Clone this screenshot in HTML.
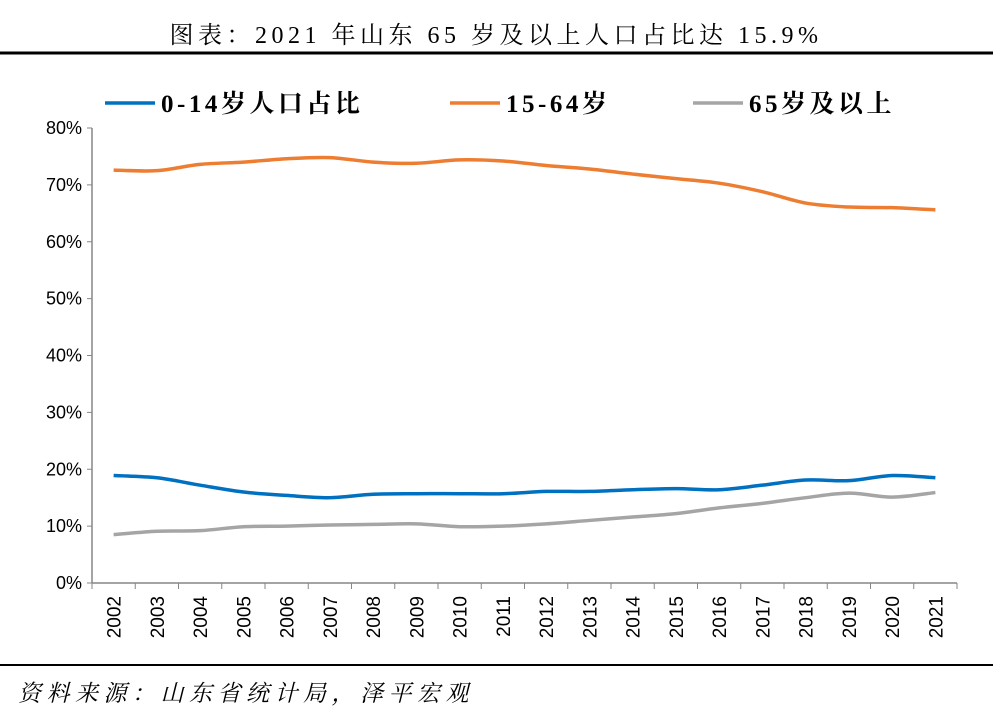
<!DOCTYPE html>
<html><head><meta charset="utf-8"><style>
body{margin:0;background:#fff;width:993px;height:712px;overflow:hidden;font-family:"Liberation Serif","Noto Serif CJK SC",serif;}
</style></head><body>
<svg width="993" height="712" xmlns="http://www.w3.org/2000/svg">
<text x="496" y="43" text-anchor="middle" font-size="24" letter-spacing="4.5" font-family="Liberation Serif, Noto Serif CJK SC, serif">图表：2021 年山东 65 岁及以上人口占比达 15.9%</text>
<line x1="0" y1="53" x2="993" y2="53" stroke="#000" stroke-width="3"/>
<g id="plot"></g>
<line x1="0" y1="665" x2="993" y2="665" stroke="#000" stroke-width="2"/>
<text x="18" y="701" font-size="23" letter-spacing="5.5" font-style="italic" font-family="Liberation Serif, Noto Serif CJK SC, serif">资料来源：山东省统计局，泽平宏观</text>
</svg>
<script>
const years=[2002,2003,2004,2005,2006,2007,2008,2009,2010,2011,2012,2013,2014,2015,2016,2017,2018,2019,2020,2021];
const child=[18.9,18.5,17.2,16.0,15.4,15.0,15.6,15.7,15.7,15.7,16.1,16.1,16.4,16.6,16.4,17.2,18.1,18.0,18.9,18.5];
const working=[72.6,72.5,73.6,74.0,74.6,74.8,74.0,73.8,74.4,74.2,73.4,72.8,71.9,71.1,70.3,68.8,66.8,66.1,66.0,65.6];
const elderly=[8.5,9.1,9.2,9.9,10.0,10.2,10.3,10.4,9.9,10.0,10.4,11.0,11.6,12.2,13.2,14.0,15.0,15.8,15.1,15.9];
const yTicks=[0,10,20,30,40,50,60,70,80];
const seriesNames=["0-14岁人口占比","15-64岁","65岁及以上"];
const NS="http://www.w3.org/2000/svg";
const g=document.getElementById('plot');
const L=92,R=957,T=128,B=583;
const step=(R-L)/years.length;
const xs=i=>L+step*(i+0.5);
const ys=v=>B-(v/80)*(B-T);
function mk(t,a,p){const e=document.createElementNS(NS,t);for(const k in a)e.setAttribute(k,a[k]);(p||g).appendChild(e);return e;}
let e;
e=mk('line',{x1:L,y1:T,x2:L,y2:B,stroke:'#868686','stroke-width':1.5});


e=mk('line',{x1:L,y1:B,x2:R,y2:B,stroke:'#868686','stroke-width':1.5});


yTicks.forEach(v=>{
 e=mk('line',{x1:L-5,y1:ys(v),x2:L,y2:ys(v),stroke:'#868686'});
 
 
 e=mk('text',{x:L-10,y:ys(v)+6,'text-anchor':'end','font-size':18,'font-family':'Liberation Sans, sans-serif'});
 e.textContent=v+'%';
 
 
});
for(let i=0;i<=years.length;i++){
 e=mk('line',{x1:L+step*i,y1:B,x2:L+step*i,y2:B+6,stroke:'#868686'});
 
 
}
years.forEach((y,i)=>{
 const x=xs(i)+7,yy=B+13;
 e=mk('text',{x:x,y:yy,'text-anchor':'end','font-size':19,'font-family':'Liberation Sans, sans-serif',transform:`rotate(-90 ${x} ${yy})`});
 e.textContent=y;
 
 
});
function path(vals){
 const p=vals.map((v,i)=>[xs(i),ys(v)]);
 let d=`M${p[0][0]},${p[0][1]}`;
 for(let i=0;i<p.length-1;i++){
  const p0=p[Math.max(0,i-1)],p1=p[i],p2=p[i+1],p3=p[Math.min(p.length-1,i+2)];
  const c1=[p1[0]+(p2[0]-p0[0])/6,p1[1]+(p2[1]-p0[1])/6];
  const c2=[p2[0]-(p3[0]-p1[0])/6,p2[1]-(p3[1]-p1[1])/6];
  d+=`C${c1[0]},${c1[1]} ${c2[0]},${c2[1]} ${p2[0]},${p2[1]}`;
 }
 return d;
}
const series=[[child,'#0070C0','line-0-14'],[working,'#ED7D31','line-15-64'],[elderly,'#A5A5A5','line-65-plus']];
series.forEach(s=>{
 e=mk('path',{d:path(s[0]),fill:'none',stroke:s[1],'stroke-width':3.5});
 
 
});
const lx=[105,450,693];
series.forEach((s,i)=>{
 e=mk('line',{x1:lx[i],y1:103,x2:lx[i]+50,y2:103,stroke:s[1],'stroke-width':3.5});
 
 
 e=mk('text',{x:lx[i]+56,y:112,'font-size':25,'font-weight':'bold','letter-spacing':3.5,'font-family':'Liberation Serif, Noto Serif CJK SC, serif'});
 e.textContent=seriesNames[i];
 
 
});
</script>
</body></html>
